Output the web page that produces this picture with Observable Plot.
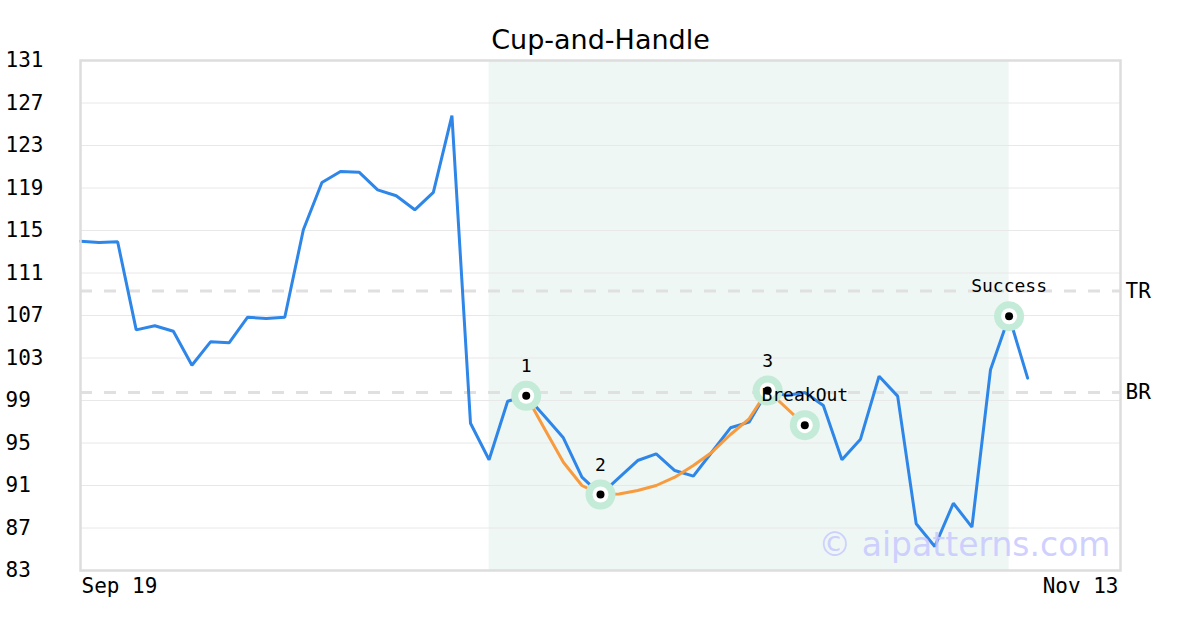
<!DOCTYPE html>
<html>
<head>
<meta charset="utf-8">
<script src="https://cdn.jsdelivr.net/npm/d3@7"></script>
<script src="https://cdn.jsdelivr.net/npm/@observablehq/plot@0.6"></script>
<style>
  html, body { margin: 0; padding: 0; background: #ffffff; }
</style>
</head>
<body>
<div id="chart"></div>
<script>
// ---- data ----
const title = "Cup-and-Handle";
const xTickLabels = ["Sep 19", "Nov 13"];
const xDomain = [0, 56];
const yTicks = [83, 87, 91, 95, 99, 103, 107, 111, 115, 119, 123, 127, 131];

const prices = [
  113.99, 113.87, 113.94, 105.65, 106.03, 105.52, 102.32, 104.52, 104.43, 106.84,
  106.72, 106.84, 115.07, 119.52, 120.55, 120.49, 118.83, 118.27, 116.95, 118.58,
  125.82, 96.86, 93.42, 98.93, 99.44, 97.49, 95.49, 91.78, 90.15, 91.75,
  93.35, 93.98, 92.41, 91.88, 94.15, 96.43, 96.96, 99.94, 99.47, 99.75,
  98.53, 93.42, 95.36, 101.29, 99.41, 87.40, 85.26, 89.33, 87.08, 101.89,
  106.93, 101.10
];

const cupIdx = [24, 25, 26, 27, 28, 29, 30, 31, 32, 33, 34, 35, 36, 37, 39];
const cupValues = [99.44, 96.3, 93.19, 91.0, 90.15, 90.2, 90.53, 91.0, 91.78, 92.88, 94.13, 95.8, 97.28, 99.94, 96.68];

const markerIdx = [24, 28, 37, 39, 50];
const markerValues = [99.44, 90.15, 99.94, 96.68, 106.93];
const markerLabels = ["1", "2", "3", "BreakOut", "Success"];

const levelNames = ["TR", "BR"];
const levelValues = [109.3, 99.75];

const shadeRange = [22, 50];
const watermark = "© aipatterns.com";

// ---- build tables ----
const series = prices.map((v, i) => ({i, v}));
const cup = cupIdx.map((i, k) => ({i, v: cupValues[k]}));
const markers = markerIdx.map((i, k) => ({i, v: markerValues[k], label: markerLabels[k]}));
const levels = levelNames.map((name, k) => ({name, v: levelValues[k]}));

const chart = Plot.plot({
  width: 1200,
  height: 630,
  marginTop: 60,
  marginBottom: 60,
  marginLeft: 80,
  marginRight: 80,
  style: {fontFamily: "DejaVu Sans Mono", fontSize: "21px", background: "#ffffff", color: "#000", overflow: "visible"},
  x: {domain: xDomain, axis: null},
  y: {domain: [83, 131], axis: null},
  marks: [
    Plot.rectX([{x1: shadeRange[0], x2: shadeRange[1]}], {x1: "x1", x2: "x2", fill: "#eef7f3"}),
    Plot.gridY(yTicks, {stroke: "#e8e8e8", strokeOpacity: 1, strokeWidth: 1}),
    Plot.ruleY(levels, {y: "v", stroke: "#e0e0e0", strokeWidth: 3, strokeDasharray: "12,12"}),
    Plot.text(levels, {x: xDomain[1], y: "v", text: "name", textAnchor: "start", dx: 5, fontSize: 21, fill: "#000"}),
    Plot.line(series, {x: "i", y: "v", stroke: "#2e86e8", strokeWidth: 3, strokeLinejoin: "miter"}),
    Plot.line(cup, {x: "i", y: "v", stroke: "#f89b3e", strokeWidth: 3}),
    Plot.dot(markers, {x: "i", y: "v", r: 15, fill: "#c3ebd7", stroke: "none"}),
    Plot.dot(markers, {x: "i", y: "v", r: 8, fill: "#ffffff", stroke: "none"}),
    Plot.dot(markers, {x: "i", y: "v", r: 4, fill: "#000000", stroke: "none"}),
    Plot.text(markers, {x: "i", y: "v", text: "label", dy: -24, lineAnchor: "bottom", fontSize: 18, fill: "#000"}),
    Plot.frame({stroke: "#dddddd", strokeWidth: 2.5}),
    Plot.text([watermark], {frameAnchor: "bottom-right", dx: -10, dy: -15, textAnchor: "end", lineAnchor: "bottom", fontSize: 33, fontFamily: "DejaVu Sans", fill: "#c8c8ff", fillOpacity: 0.85}),
    Plot.text([title], {frameAnchor: "top", dy: -20, lineAnchor: "middle", fontSize: 27, fontFamily: "DejaVu Sans", fill: "#000"}),
    Plot.axisY({ticks: yTicks, tickSize: 0, tickPadding: 0, textAnchor: "start", dx: -75, fontSize: 21, label: null}),
    Plot.axisX({ticks: [xDomain[0]], tickFormat: () => xTickLabels[0], tickSize: 0, tickPadding: 8, textAnchor: "start", dx: 1, fontSize: 21, label: null}),
    Plot.axisX({ticks: [xDomain[1]], tickFormat: () => xTickLabels[1], tickSize: 0, tickPadding: 8, textAnchor: "end", dx: -2, fontSize: 21, label: null})
  ]
});
document.getElementById("chart").appendChild(chart);
</script>
</body>
</html>
